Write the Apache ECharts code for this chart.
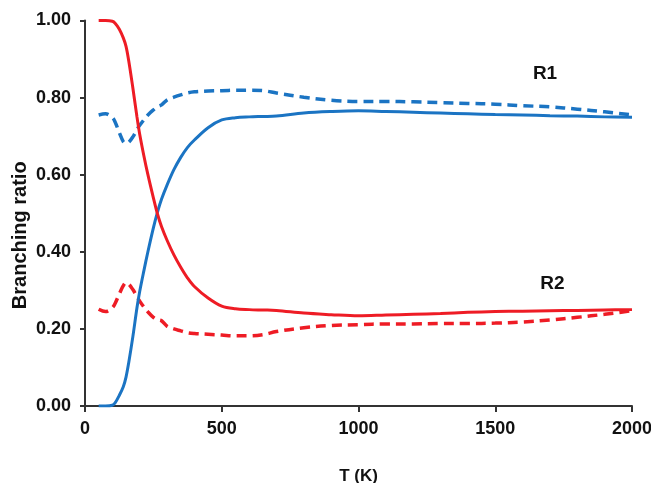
<!DOCTYPE html>
<html>
<head>
<meta charset="utf-8">
<script src="https://cdn.jsdelivr.net/npm/echarts@6/dist/echarts.min.js"></script>
<style>
html,body{margin:0;padding:0;background:#fff;}
#chart{width:651px;height:483px;}
</style>
</head>
<body>
<div id="chart"></div>
<script>
// Temperature grid (K)
const T = [50, 75, 100, 110, 125, 140, 150, 160, 175, 190, 200, 215, 230, 250, 265, 280, 300, 325, 350, 375, 400, 450, 500, 550, 600, 650, 700, 800, 900, 1000, 1100, 1200, 1300, 1400, 1500, 1600, 1700, 1800, 1900, 2000];

// R1 solid (blue)
const r1Solid = [0, 0, 0.002, 0.008, 0.027, 0.05, 0.075, 0.113, 0.18, 0.255, 0.297, 0.35, 0.40, 0.462, 0.503, 0.537, 0.573, 0.613, 0.645, 0.671, 0.69, 0.722, 0.742, 0.748, 0.75, 0.751, 0.752, 0.76, 0.764, 0.766, 0.764, 0.762, 0.76, 0.758, 0.756, 0.755, 0.753, 0.752, 0.75, 0.749];
// R1 dashed (blue)
const r1Dashed = [0.755, 0.758, 0.748, 0.737, 0.71, 0.686, 0.681, 0.684, 0.698, 0.717, 0.728, 0.742, 0.755, 0.768, 0.776, 0.781, 0.794, 0.801, 0.807, 0.812, 0.815, 0.817, 0.818, 0.819, 0.819, 0.818, 0.812, 0.801, 0.793, 0.79, 0.79, 0.789, 0.787, 0.785, 0.783, 0.779, 0.776, 0.77, 0.763, 0.755];
// R2 solid (red)
const r2Solid = [1.0, 1.0, 0.998, 0.993, 0.978, 0.955, 0.933, 0.895, 0.825, 0.75, 0.705, 0.65, 0.60, 0.54, 0.498, 0.465, 0.43, 0.392, 0.36, 0.332, 0.31, 0.28, 0.259, 0.252, 0.25, 0.249, 0.248, 0.241, 0.237, 0.234, 0.236, 0.238, 0.24, 0.243, 0.245, 0.246, 0.247, 0.248, 0.249, 0.25];
// R2 dashed (red)
const r2Dashed = [0.251, 0.245, 0.255, 0.266, 0.29, 0.312, 0.32, 0.316, 0.302, 0.284, 0.272, 0.257, 0.244, 0.23, 0.224, 0.221, 0.207, 0.2, 0.195, 0.19, 0.188, 0.186, 0.184, 0.182, 0.182, 0.185, 0.193, 0.203, 0.209, 0.211, 0.213, 0.213, 0.214, 0.214, 0.215, 0.218, 0.223, 0.23, 0.238, 0.247];

// Annotation labels: [name, T, value]
const annotations = [["R1", 1682, 0.861], ["R2", 1709, 0.316]];

const BLUE = "#1b74c3";
const RED = "#ee1c25";
const FONT = "'Liberation Sans', Arial, sans-serif";

function pairs(ys){ return T.map((t,i)=>[t, ys[i]]); }

const chart = echarts.init(document.getElementById('chart'), null, {renderer:'canvas'});
const lineCommon = {type:'line', smooth: 0.35, showSymbol:false, symbol:'none'};
chart.setOption({
  backgroundColor: '#fff',
  animation: false,
  grid: {left: 85, right: 19, top: 20.5, bottom: 77, containLabel: false, outerBoundsMode: 'none'},
  xAxis: {
    type: 'value', min: 0, max: 2000, interval: 500,
    name: 'T (K)', nameLocation: 'middle', nameGap: 62, nameMoveOverlap: false,
    nameTextStyle: {fontFamily: FONT, fontWeight: 'bold', fontSize: 17, color: '#111'},
    axisLine: {show: true, lineStyle: {color: '#333', width: 2}},
    axisTick: {show: true, inside: false, length: 6, lineStyle: {color: '#333', width: 2}},
    axisLabel: {fontFamily: FONT, fontWeight: 'bold', fontSize: 18, color: '#111', margin: 14,
      formatter: v => String(v)},
    splitLine: {show: false}
  },
  yAxis: {
    type: 'value', min: 0, max: 1, interval: 0.2,
    name: 'Branching ratio', nameLocation: 'middle', nameGap: 55, nameMoveOverlap: false,
    nameTextStyle: {fontFamily: FONT, fontWeight: 'bold', fontSize: 20, color: '#111', padding: [0, 44, 0, 0]},
    axisLine: {show: true, lineStyle: {color: '#333', width: 2}},
    axisTick: {show: true, inside: false, length: 5, lineStyle: {color: '#333', width: 2}},
    axisLabel: {fontFamily: FONT, fontWeight: 'bold', fontSize: 18, color: '#111', margin: 14,
      formatter: v => v.toFixed(2)},
    splitLine: {show: false}
  },
  series: [
    Object.assign({}, lineCommon, {data: pairs(r1Dashed), lineStyle:{color: BLUE, width: 3.5, type:[10,6]}}),
    Object.assign({}, lineCommon, {data: pairs(r2Dashed), lineStyle:{color: RED, width: 3.5, type:[10,6]}}),
    Object.assign({}, lineCommon, {data: pairs(r1Solid), lineStyle:{color: BLUE, width: 3}}),
    Object.assign({}, lineCommon, {data: pairs(r2Solid), lineStyle:{color: RED, width: 3},
     markPoint: {
       symbol: 'circle', symbolSize: 1, itemStyle: {color: 'rgba(0,0,0,0)'},
       label: {show: true, position: 'inside', fontFamily: FONT, fontWeight: 'bold', fontSize: 19, color: '#111',
         formatter: p => p.name},
       data: annotations.map(a => ({name: a[0], coord: [a[1], a[2]]}))
     }})
  ]
});
</script>
</body>
</html>
